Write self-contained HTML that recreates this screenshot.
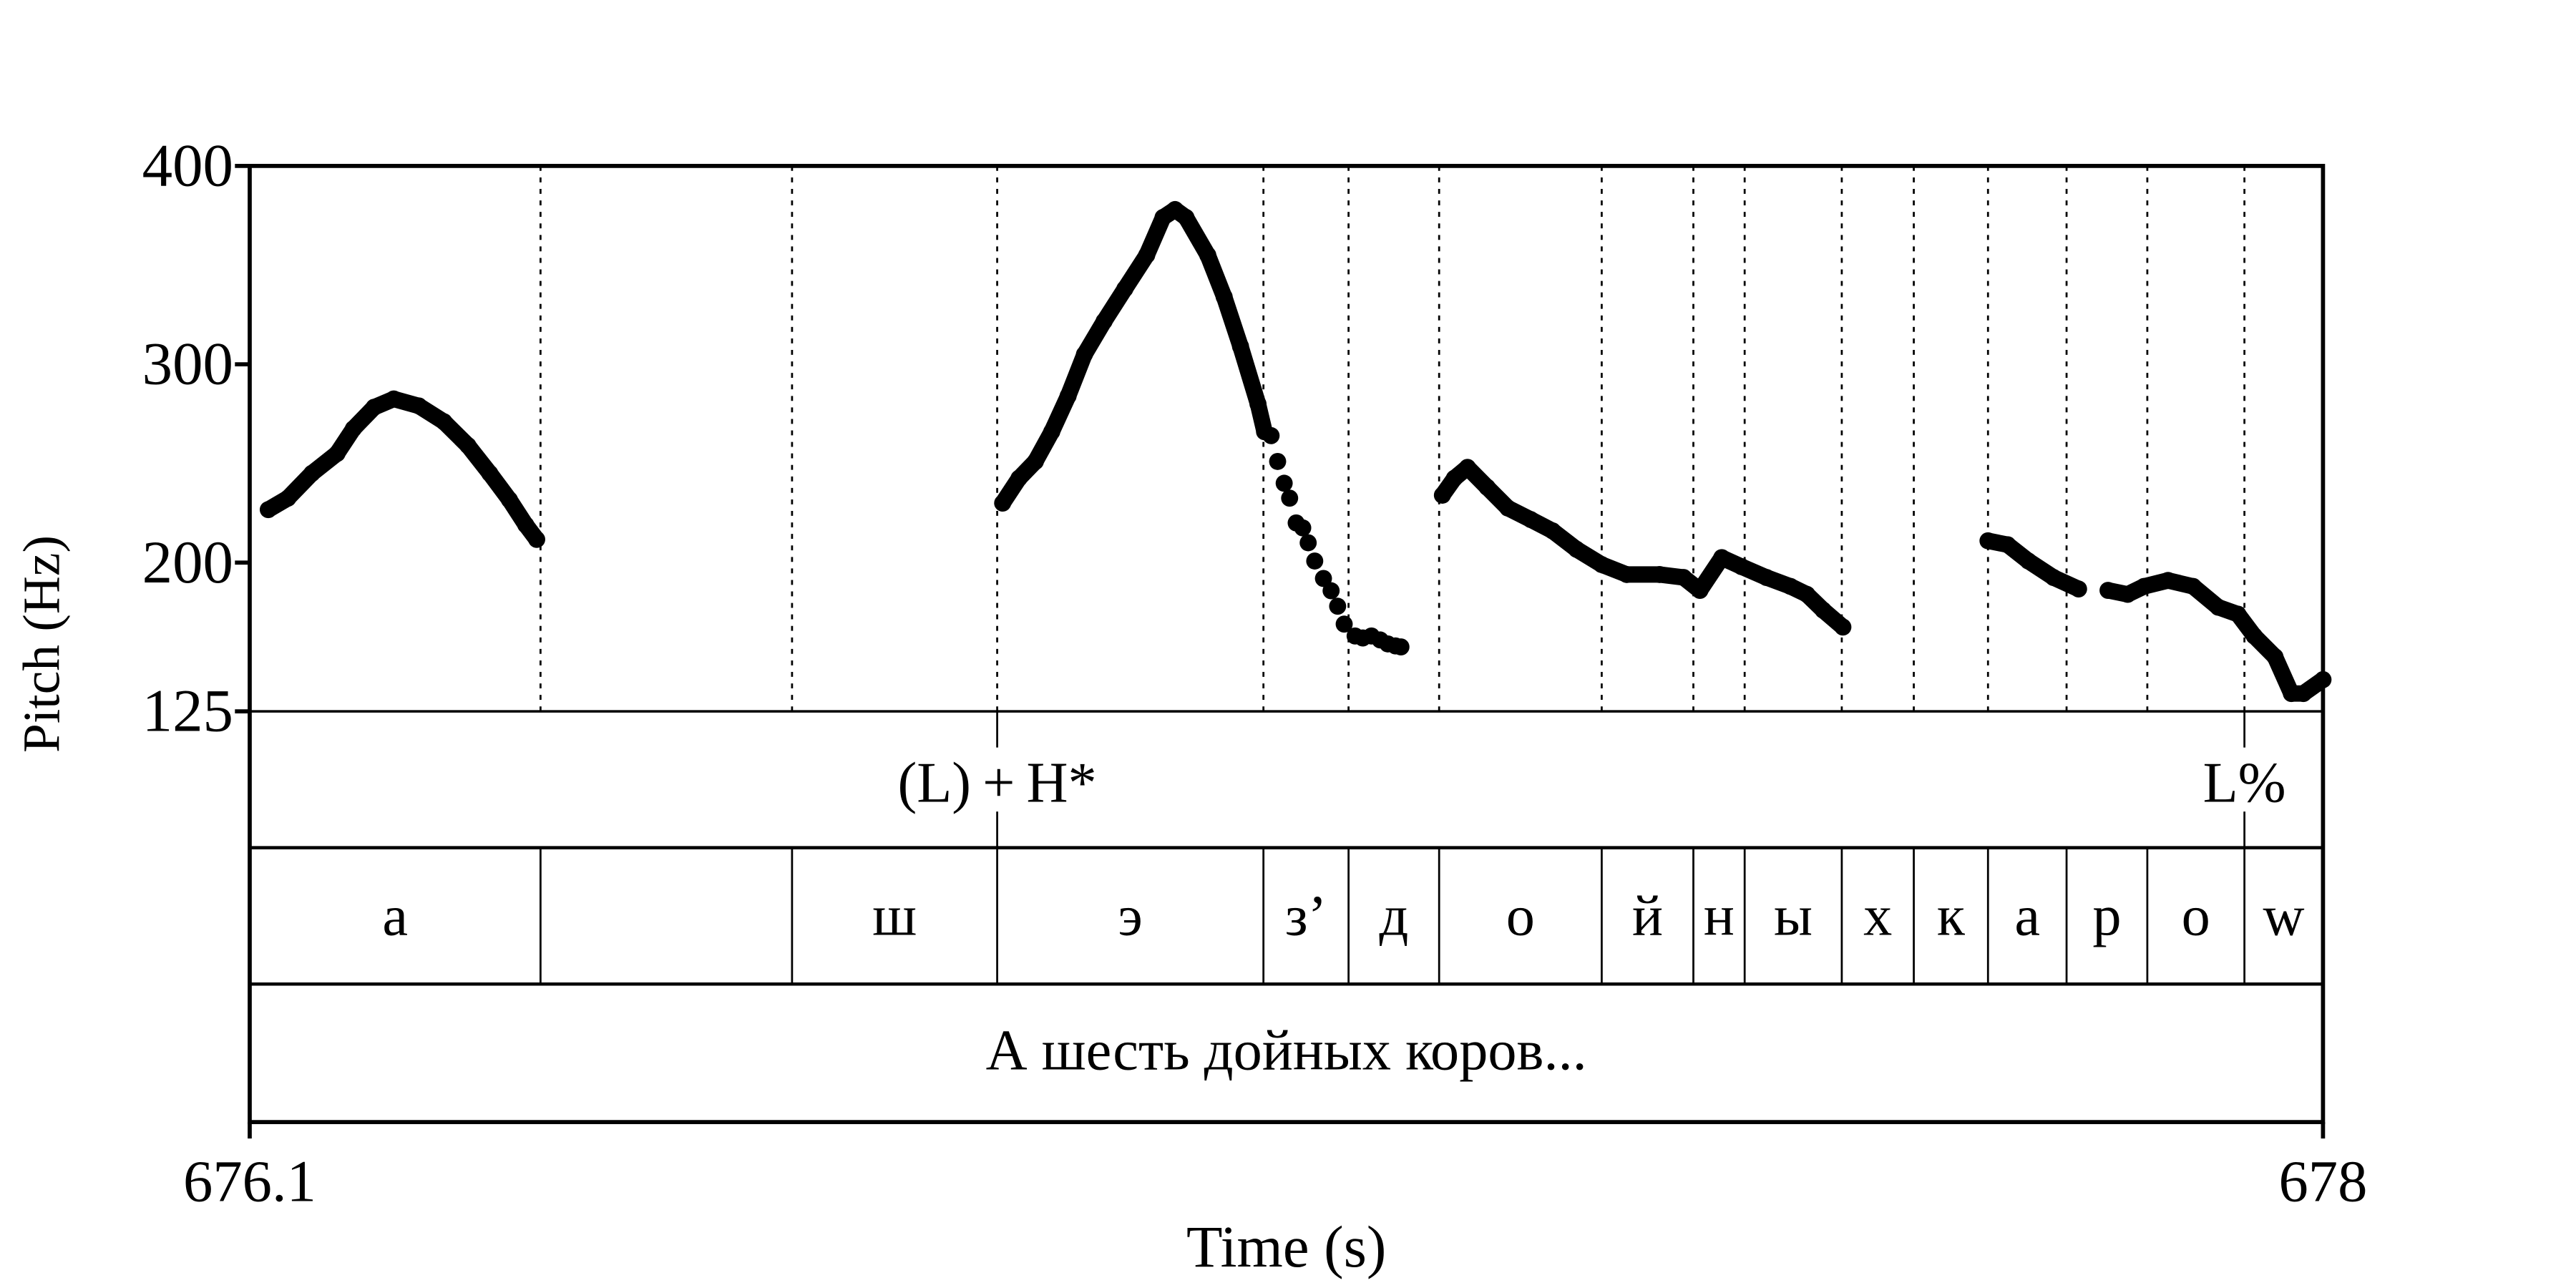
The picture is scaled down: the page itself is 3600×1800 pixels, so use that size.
<!DOCTYPE html>
<html><head><meta charset="utf-8"><style>
html,body{margin:0;padding:0;background:#fff;}
svg{display:block;}
text{font-family:"Liberation Serif","Noto Serif CJK SC",serif;fill:#000;}
</style></head><body>
<svg id="chart" width="3600" height="1800" viewBox="0 0 1568 784" xmlns="http://www.w3.org/2000/svg">
<g id="g"></g>
</svg>
<script>
const yTicks=[400,300,200,125];
const xTicks=[676.1,678];
const xTickLabels=["676.1","678"];
const boundaries=[676.3665,676.597,676.785,677.029,677.107,677.190,677.339,677.423,677.470,677.559,677.625,677.693,677.765,677.839,677.928];
const segLabels=["а","","ш","э","з’","д","о","й","н","ы","х","к","а","р","о","w"];
const toneTimes=[676.785,677.928];
const toneLabels=["(L)\u2009+\u2009H*","L%"];
const sentence="А шесть дойных коров...";
const seg1T=[676.117,676.135,676.157,676.180,676.195,676.214,676.232,676.255,676.278,676.300,676.320,676.338,676.353,676.363];
const seg1F=[226.7,232.5,245,255,267.5,278.3,282.5,279,271,259,245,231.7,219,211.7];
const seg2T=[676.790,676.805,676.820,676.835,676.850,676.865,676.883,676.902,676.922,676.937,676.948,676.958,676.978,676.993,677.008,677.024,677.030];
const seg2F=[230,242.5,251,266,284,305,321.7,338,355,374,378,374,355,334,309,280,266];
const seg2bT=[677.036,677.042,677.048,677.053,677.059,677.065,677.070,677.076,677.084,677.091,677.097,677.103,677.113,677.120,677.128,677.136,677.143,677.150,677.155];
const seg2bF=[264,251,240,232.5,220,217.5,210,200.8,192,185.8,178,169,163,162,163,161,159,158,157.5];
const seg3T=[677.193,677.204,677.216,677.234,677.253,677.274,677.294,677.316,677.339,677.362,677.392,677.414,677.429,677.449,677.467,677.490,677.512,677.527,677.542,677.560];
const seg3F=[234,242.5,248,238,227.5,221.7,216,206.7,199,194,194,192.5,186,202.5,198,192.5,188,184,176,167.5];
const seg4T=[677.693,677.711,677.730,677.753,677.776];
const seg4F=[211,209,200.8,192.5,186.7];
const seg5T=[677.803,677.821,677.836,677.858,677.881,677.904,677.922,677.937,677.956,677.971,677.982,678.0];
const seg5F=[186,184,188,191,188,177.5,174,163,152.5,134,134,141];

const L=152,R=1414,T=101,B=433;
const t0=676.1,t1=678,f0=125,f1=400;
const X=t=>L+(t-t0)/(t1-t0)*(R-L);
const Y=f=>B-(f-f0)/(f1-f0)*(B-T);
const NS="http://www.w3.org/2000/svg";
const g=document.getElementById('g');
function mk(tag,attrs,txt){const e=document.createElementNS(NS,tag);for(const k in attrs)e.setAttribute(k,attrs[k]);if(txt!==undefined)e.textContent=txt;g.appendChild(e);return e;}

const tier1B=516,tier2B=599,tier3B=683;
boundaries.forEach((b,i)=>{
  const l=mk('line',{x1:X(b),x2:X(b),y1:T,y2:B,stroke:'#000','stroke-width':1.2,'stroke-dasharray':'3,4'});
  
  
  const s=mk('line',{x1:X(b),x2:X(b),y1:tier1B,y2:tier2B,stroke:'#000','stroke-width':1.2});
  
  
});
[[B,1.5],[tier1B,2],[tier2B,2]].forEach(([y,w])=>{
  const l=mk('line',{x1:L,x2:R,y1:y,y2:y,stroke:'#000','stroke-width':w});
  
  
});
const fr=mk('path',{d:`M${L},${T}H${R}V${tier3B}H${L}Z`,fill:'none',stroke:'#000','stroke-width':2.5});


yTicks.forEach(v=>{
  const l=mk('line',{x1:L-9,x2:L,y1:Y(v),y2:Y(v),stroke:'#000','stroke-width':2.5});
  
  
  const tx=mk('text',{x:L-10,y:Y(v)+12,'font-size':37,'text-anchor':'end'},String(v));
  
  
});
xTicks.forEach((v,i)=>{
  const l=mk('line',{x1:X(v),x2:X(v),y1:tier3B,y2:tier3B+10,stroke:'#000','stroke-width':2.5});
  
  
  const tx=mk('text',{x:X(v),y:731,'font-size':36,'text-anchor':'middle'},xTickLabels[i]);
  
  
});
const yt=mk('text',{x:0,y:0,'font-size':32,'text-anchor':'middle',transform:`translate(36,392) rotate(-90)`},'Pitch (Hz)');


const xt=mk('text',{x:783,y:771,'font-size':36,'text-anchor':'middle'},'Time (s)');


toneTimes.forEach((t,i)=>{
  const a=mk('line',{x1:X(t),x2:X(t),y1:B,y2:B+22,stroke:'#000','stroke-width':1.2});
  
  
  const b=mk('line',{x1:X(t),x2:X(t),y1:tier1B-22,y2:tier1B,stroke:'#000','stroke-width':1.2});
  
  
  const tx=mk('text',{x:X(t),y:488,'font-size':35,'text-anchor':'middle'},toneLabels[i]);
  
  
});
const edges=[t0,...boundaries,t1];
segLabels.forEach((s,i)=>{
  if(!s)return;
  const cx=(X(edges[i])+X(edges[i+1]))/2;
  const tx=mk('text',{x:cx,y:569,'font-size':35,'text-anchor':'middle'},s);
  
  
});
const st=mk('text',{x:(L+R)/2,y:651,'font-size':35,'text-anchor':'middle'},sentence);


function series(ts,fs,line){
  if(line){
    const p=mk('polyline',{points:ts.map((t,i)=>X(t)+','+Y(fs[i])).join(' '),fill:'none',stroke:'#000','stroke-width':10,'stroke-linejoin':'round','stroke-linecap':'round'});
    
    
  }
  ts.forEach((t,i)=>{
    const c=mk('circle',{cx:X(t),cy:Y(fs[i]),r:5.2,fill:'#000'});
    
    
  });
}
series(seg1T,seg1F,true);
series(seg2T,seg2F,true);
series(seg2bT,seg2bF,false);
series(seg3T,seg3F,true);
series(seg4T,seg4F,true);
series(seg5T,seg5F,true);
</script>
</body></html>
